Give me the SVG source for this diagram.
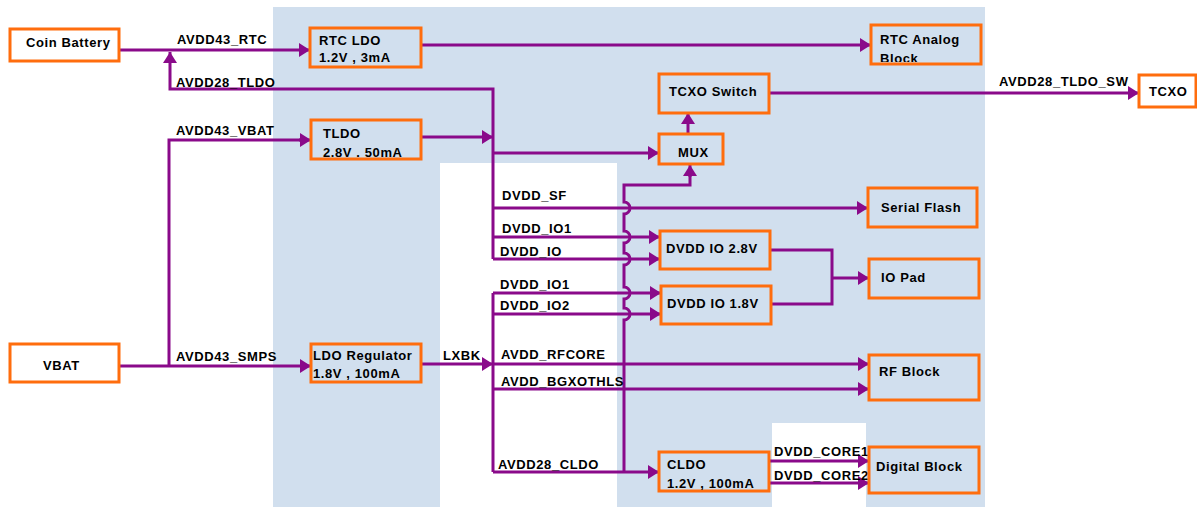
<svg xmlns="http://www.w3.org/2000/svg" width="1197" height="507" viewBox="0 0 1197 507">
<style>
.bg{fill:#d1dfee}
.node rect{fill:none;stroke:#ff6d0d;stroke-width:3}
text{font-family:"Liberation Sans",Arial,sans-serif;font-weight:bold;font-size:13px;fill:#000;letter-spacing:0.6px}
.c{fill:none;stroke:#8a0a8a;stroke-width:3}
.a{marker-end:url(#arr)}
</style>
<defs>
<marker id="arr" markerUnits="userSpaceOnUse" markerWidth="12" markerHeight="16" viewBox="0 0 12 16" refX="11" refY="8" orient="auto">
<path d="M0,1 L11,8 L0,15 Z" fill="#8a0a8a"/>
</marker>
<clipPath id="rtcclip"><rect x="872" y="26" width="108" height="36"/></clipPath>
</defs>
<rect width="1197" height="507" fill="#fff"/>
<rect class="bg" x="273" y="7" width="344" height="500"/>
<rect class="bg" x="617" y="7" width="368" height="500"/>
<rect x="440" y="163" width="177" height="344" fill="#fff"/>
<rect x="772" y="423" width="94" height="84" fill="#fff"/>

<g id="connectors">
<path class="c a" d="M119,50 H310"/>
<path class="c" d="M493,259 V89 H170 V64"/>
<path class="c a" d="M170,64 V52"/>
<path class="c a" d="M421,45 H871"/>
<path class="c a" d="M769,93 H1139"/>
<path class="c a" d="M119,366 H311"/>
<path class="c" d="M169,366 V140 H300"/>
<path class="c a" d="M299,140 H311"/>
<path class="c a" d="M421,137 H493"/>
<path class="c a" d="M493,153 H659"/>
<path class="c a" d="M493,208 H868"/>
<path class="c a" d="M493,237 H660"/>
<path class="c a" d="M493,259 H660"/>
<path class="c" d="M493,293 V472"/>
<path class="c a" d="M493,293 H661"/>
<path class="c a" d="M493,314 H661"/>
<path class="c a" d="M421,364 H493"/>
<path class="c a" d="M493,364 H869"/>
<path class="c a" d="M493,389 H869"/>
<path class="c a" d="M493,472 H659"/>
<path class="c" d="M624,472 V320 A6,6 0 0 0 624,308 V299 A6,6 0 0 0 624,287 V265 A6,6 0 0 0 624,253 V243 A6,6 0 0 0 624,231 V214 A6,6 0 0 0 624,202 V185 H690 V176"/>
<path class="c a" d="M690,177 V165"/>
<path class="c a" d="M688,134 V113"/>
<path class="c" d="M770,250 H832 V304 H771"/>
<path class="c a" d="M832,278 H869"/>
<path class="c a" d="M769,461 H869"/>
<path class="c a" d="M769,483 H869"/>
</g>

<g id="labels">
<text x="177" y="44">AVDD43_RTC</text>
<text x="176" y="87">AVDD28_TLDO</text>
<text x="176" y="135">AVDD43_VBAT</text>
<text x="176" y="361">AVDD43_SMPS</text>
<text x="443" y="360">LXBK</text>
<text x="502" y="200">DVDD_SF</text>
<text x="502" y="233">DVDD_IO1</text>
<text x="500" y="256">DVDD_IO</text>
<text x="500" y="289">DVDD_IO1</text>
<text x="500" y="310">DVDD_IO2</text>
<text x="501" y="359">AVDD_RFCORE</text>
<text x="501" y="386">AVDD_BGXOTHLS</text>
<text x="498" y="469">AVDD28_CLDO</text>
<text x="774" y="456">DVDD_CORE1</text>
<text x="774" y="480">DVDD_CORE2</text>
<text x="999" y="86">AVDD28_TLDO_SW</text>
</g>

<g id="coin-battery" class="node"><rect x="10" y="29" width="109" height="32"/><text x="26" y="47">Coin Battery</text></g>
<g id="rtc-ldo" class="node"><rect x="310" y="28" width="111" height="39"/><text x="319" y="45">RTC LDO</text><text x="319" y="62">1.2V , 3mA</text></g>
<g id="rtc-analog" class="node"><rect x="871" y="25" width="110" height="39"/><text x="880" y="44">RTC Analog</text><text x="880" y="63" clip-path="url(#rtcclip)">Block</text></g>
<g id="tldo" class="node"><rect x="311" y="120" width="110" height="39"/><text x="323" y="138">TLDO</text><text x="323" y="157">2.8V . 50mA</text></g>
<g id="tcxo-switch" class="node"><rect x="659" y="74" width="110" height="39"/><text x="669" y="96">TCXO Switch</text></g>
<g id="mux" class="node"><rect x="659" y="134" width="64" height="30"/><text x="678" y="157">MUX</text></g>
<g id="tcxo" class="node"><rect x="1139" y="75" width="57" height="32"/><text x="1149" y="96">TCXO</text></g>
<g id="serial-flash" class="node"><rect x="868" y="188" width="109" height="39"/><text x="881" y="212">Serial Flash</text></g>
<g id="io-pad" class="node"><rect x="869" y="259" width="110" height="39"/><text x="881" y="282">IO Pad</text></g>
<g id="dvdd-io-28" class="node"><rect x="660" y="231" width="110" height="38"/><text x="666" y="253">DVDD IO 2.8V</text></g>
<g id="dvdd-io-18" class="node"><rect x="661" y="286" width="110" height="38"/><text x="667" y="308">DVDD IO 1.8V</text></g>
<g id="vbat" class="node"><rect x="10" y="344" width="109" height="38"/><text x="43" y="370">VBAT</text></g>
<g id="ldo-regulator" class="node"><rect x="311" y="344" width="110" height="38"/><text x="313" y="360">LDO Regulator</text><text x="313" y="378">1.8V , 100mA</text></g>
<g id="rf-block" class="node"><rect x="869" y="355" width="110" height="45"/><text x="879" y="376">RF Block</text></g>
<g id="digital-block" class="node"><rect x="869" y="447" width="110" height="46"/><text x="876" y="471">Digital Block</text></g>
<g id="cldo" class="node"><rect x="659" y="452" width="110" height="39"/><text x="667" y="469">CLDO</text><text x="667" y="488">1.2V , 100mA</text></g>
</svg>
